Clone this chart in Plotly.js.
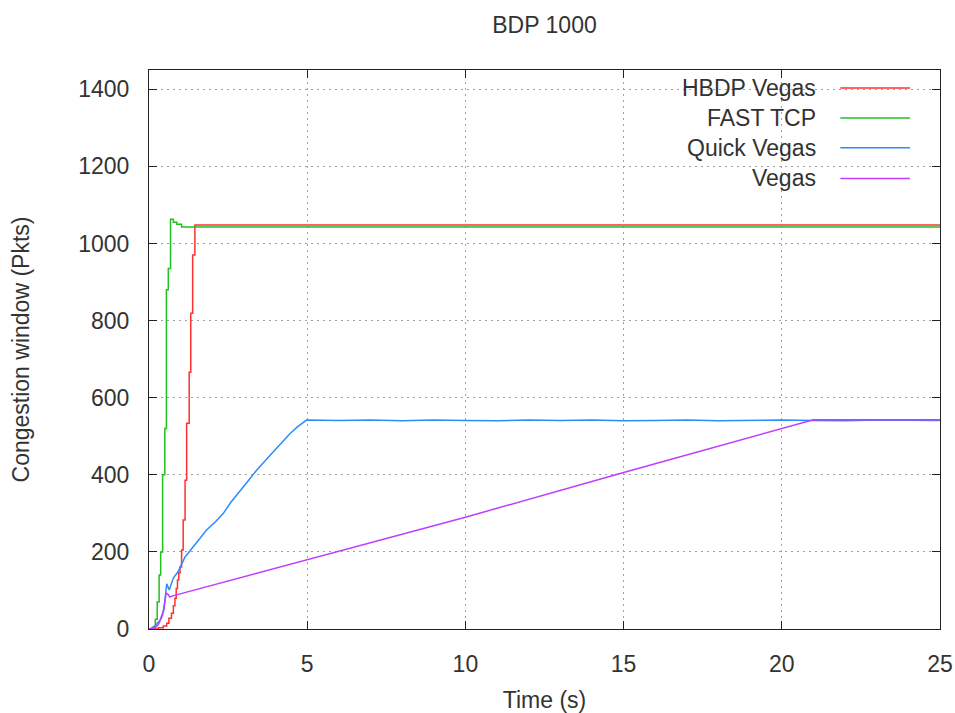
<!DOCTYPE html>
<html>
<head>
<meta charset="utf-8">
<script src="https://cdn.plot.ly/plotly-3.0.1.min.js"></script>
<style>html,body{margin:0;padding:0;background:#fff;}#chart{width:955px;height:713px;}</style>
</head>
<body>
<div id="chart"></div>
<script>
// ---- Data ----
const seriesNames = ['HBDP Vegas', 'FAST TCP', 'Quick Vegas', 'Vegas'];
const seriesColors = ['#ff3030', '#22c022', '#2a8cff', '#c03cff'];

const hbdpT = [0, 0.3, 0.45, 0.56, 0.63, 0.71, 0.77, 0.82, 0.86, 0.9, 0.94, 0.98, 1.03, 1.08, 1.14, 1.19, 1.27, 1.32, 1.38, 1.45, 25];
const hbdpY = [0, 3, 8, 15, 28, 41, 60, 80, 105, 127, 145, 161, 205, 283, 386, 534, 666, 819, 970, 1048, 1048];

const fastT = [0, 0.13, 0.2, 0.26, 0.32, 0.37, 0.43, 0.5, 0.55, 0.61, 0.68, 0.77, 0.88, 1.03, 25];
const fastY = [0, 5, 25, 70, 140, 200, 400, 520, 880, 935, 1063, 1055, 1050, 1043, 1043];

const quickT = [0, 0.15, 0.35, 0.47, 0.56, 0.64, 0.77, 0.92, 1.14, 1.4, 1.6, 1.82, 2.1, 2.35, 2.6, 2.88, 3.15, 3.4, 3.65, 3.93, 4.2, 4.46, 4.7, 4.98, 6, 7, 8, 9, 10, 11, 12, 13, 14, 15, 16, 17, 18, 19, 20, 21, 22, 23, 24, 25];
const quickY = [0, 5, 23, 49, 117, 101, 132, 149, 187, 213, 232, 257, 278, 300, 330, 360, 386, 412, 436, 460, 484, 507, 525, 542, 541, 542, 540, 542, 541, 540, 542, 541, 542, 540, 541, 542, 540, 541, 542, 541, 540, 542, 541, 541];

const vegasT = [0, 0.2, 0.3, 0.43, 0.5, 0.54, 0.6, 0.66, 0.75, 5, 10, 15, 20, 21, 25];
const vegasY = [0, 3, 12, 36, 70, 93, 90, 83, 86, 180, 290, 406, 520, 543, 543];

const xTicks = [0, 5, 10, 15, 20, 25];
const yTicks = [0, 200, 400, 600, 800, 1000, 1200, 1400];

// ---- Build traces ----
const xs = [hbdpT, fastT, quickT, vegasT];
const ys = [hbdpY, fastY, quickY, vegasY];
const shapesKind = ['hv', 'hv', 'linear', 'linear'];
const traces = seriesNames.map((n, i) => ({
  x: xs[i], y: ys[i], name: n, type: 'scatter', mode: 'lines',
  line: {color: seriesColors[i], width: 1.5, shape: shapesKind[i]},
  showlegend: false, hoverinfo: 'skip'
}));

// ---- Legend drawn gnuplot-style (text, then line sample) ----
const FONT = 'Liberation Sans, Arial, sans-serif';
const TXT = '#333';
const FS = 23;
const legendRowsY = [0.968, 0.914, 0.861, 0.806];
const annotations = seriesNames.map((n, i) => ({
  xref: 'paper', yref: 'paper', x: 0.846, y: legendRowsY[i],
  xanchor: 'right', yanchor: 'middle', text: n, showarrow: false,
  font: {family: FONT, size: FS, color: TXT}
}));
const shapes = seriesNames.map((n, i) => ({
  type: 'line', xref: 'paper', yref: 'paper',
  x0: 0.874, x1: 0.962, y0: legendRowsY[i], y1: legendRowsY[i],
  line: {color: seriesColors[i], width: 1.5}
}));

const axisCommon = {
  showline: true, linecolor: '#222', linewidth: 1, mirror: 'allticks',
  ticks: 'inside', ticklen: 8, tickcolor: '#222', tickwidth: 1,
  showgrid: true, gridcolor: '#a0a0a0', griddash: '2px,4px', gridwidth: 1,
  zeroline: false, tickfont: {family: FONT, size: FS, color: TXT}
};

const layout = {
  width: 955, height: 713,
  margin: {l: 149, r: 15, t: 70, b: 84},
  paper_bgcolor: '#fff', plot_bgcolor: '#fff',
  title: {text: 'BDP 1000', font: {family: FONT, size: FS, color: TXT},
          xref: 'paper', x: 0.5, xanchor: 'center', yref: 'container', y: 0.965, yanchor: 'middle'},
  xaxis: Object.assign({}, axisCommon, {
    range: [0, 25], tickvals: xTicks, ticktext: xTicks.map(String),
    ticklabelstandoff: 14,
    title: {text: 'Time (s)', font: {family: FONT, size: FS, color: TXT}, standoff: 24}
  }),
  yaxis: Object.assign({}, axisCommon, {
    range: [0, 1450], tickvals: yTicks, ticktext: yTicks.map(String),
    ticklabelstandoff: 14,
    title: {text: 'Congestion window (Pkts)', font: {family: FONT, size: FS, color: TXT}, standoff: 42}
  }),
  annotations: annotations,
  shapes: shapes
};

Plotly.newPlot('chart', traces, layout, {displayModeBar: false, staticPlot: true});
</script>
</body>
</html>
